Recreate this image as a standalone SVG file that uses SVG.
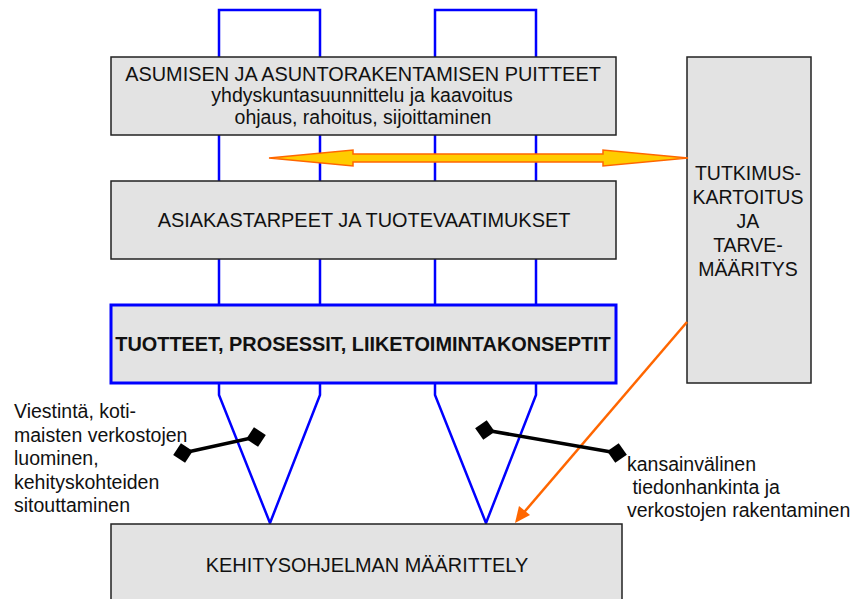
<svg xmlns="http://www.w3.org/2000/svg" width="855" height="599" viewBox="0 0 855 599">
<style>
text{font-family:"Liberation Sans",Arial,sans-serif;font-size:19.5px;fill:#111}
.c{text-anchor:middle}
.t{font-size:19.9px}
.b{font-weight:bold}
.box{fill:#e3e3e3;stroke:#222;stroke-width:1.5}
.col{fill:none;stroke:#0000ff;stroke-width:2.5;stroke-linejoin:miter}
.lnk{stroke:#000;stroke-width:3.5;fill:none}
.dia{fill:#000}
</style>
<rect width="855" height="599" fill="#fff"/>
<g id="columns">
<polygon class="col" points="219,10 320,10 320,395 270,523 219,395"/>
<polygon class="col" points="435,10 536,10 536,395 486,523 435,395"/>
</g>
<g id="n1">
<rect class="box" x="111" y="57" width="505" height="78"/>
<text class="c t" x="363" y="81">ASUMISEN JA ASUNTORAKENTAMISEN PUITTEET</text>
<text class="c" x="362" y="102">yhdyskuntasuunnittelu ja kaavoitus</text>
<text class="c" x="363" y="124">ohjaus, rahoitus, sijoittaminen</text>
</g>
<g id="n2">
<rect class="box" x="111" y="181" width="505" height="78"/>
<text class="c t" x="364" y="227">ASIAKASTARPEET JA TUOTEVAATIMUKSET</text>
</g>
<g id="n3">
<rect x="111" y="305" width="505" height="78" fill="#e3e3e3" stroke="#0000ff" stroke-width="3"/>
<text class="c b t" x="363" y="351">TUOTTEET, PROSESSIT, LIIKETOIMINTAKONSEPTIT</text>
</g>
<g id="n4">
<rect class="box" x="687" y="57" width="124" height="326"/>
<text class="c" x="748" y="180">TUTKIMUS-</text>
<text class="c" x="748" y="204">KARTOITUS</text>
<text class="c" x="748" y="228">JA</text>
<text class="c" x="748" y="252">TARVE-</text>
<text class="c" x="748" y="276">MÄÄRITYS</text>
</g>
<g id="n5">
<rect class="box" x="111" y="524" width="511" height="90"/>
<text class="c t" x="367" y="572">KEHITYSOHJELMAN MÄÄRITTELY</text>
</g>
<g id="connectors">
<polygon points="269,158 353,150 353,154 603,154 603,150 688,158 603,166 603,162 353,162 353,166" fill="#ffcc00" stroke="#ff6600" stroke-width="1.5" stroke-linejoin="miter"/>
<line x1="687" y1="322" x2="520" y2="517" stroke="#ff6600" stroke-width="2.5"/>
<polygon points="515,523 519,506 530,515" fill="#ff6600"/>
<line class="lnk" x1="183" y1="453" x2="256" y2="437"/>
<polygon class="dia" points="183,443 193,453 183,463 173,453" transform="rotate(-12 183 453)"/>
<polygon class="dia" points="256,427 266,437 256,447 246,437" transform="rotate(-12 256 437)"/>
<line class="lnk" x1="485" y1="430" x2="617" y2="453"/>
<polygon class="dia" points="485,420 495,430 485,440 475,430" transform="rotate(10 485 430)"/>
<polygon class="dia" points="617,443 627,453 617,463 607,453" transform="rotate(10 617 453)"/>
</g>
<g id="labels">
<text x="14" y="418">Viestintä, koti-</text>
<text x="14" y="442">maisten verkostojen</text>
<text x="14" y="465">luominen,</text>
<text x="14" y="489">kehityskohteiden</text>
<text x="14" y="512">sitouttaminen</text>
<text x="627" y="471">kansainvälinen</text>
<text x="627" y="494" xml:space="preserve"> tiedonhankinta ja</text>
<text x="627" y="517">verkostojen rakentaminen</text>
</g>
</svg>
